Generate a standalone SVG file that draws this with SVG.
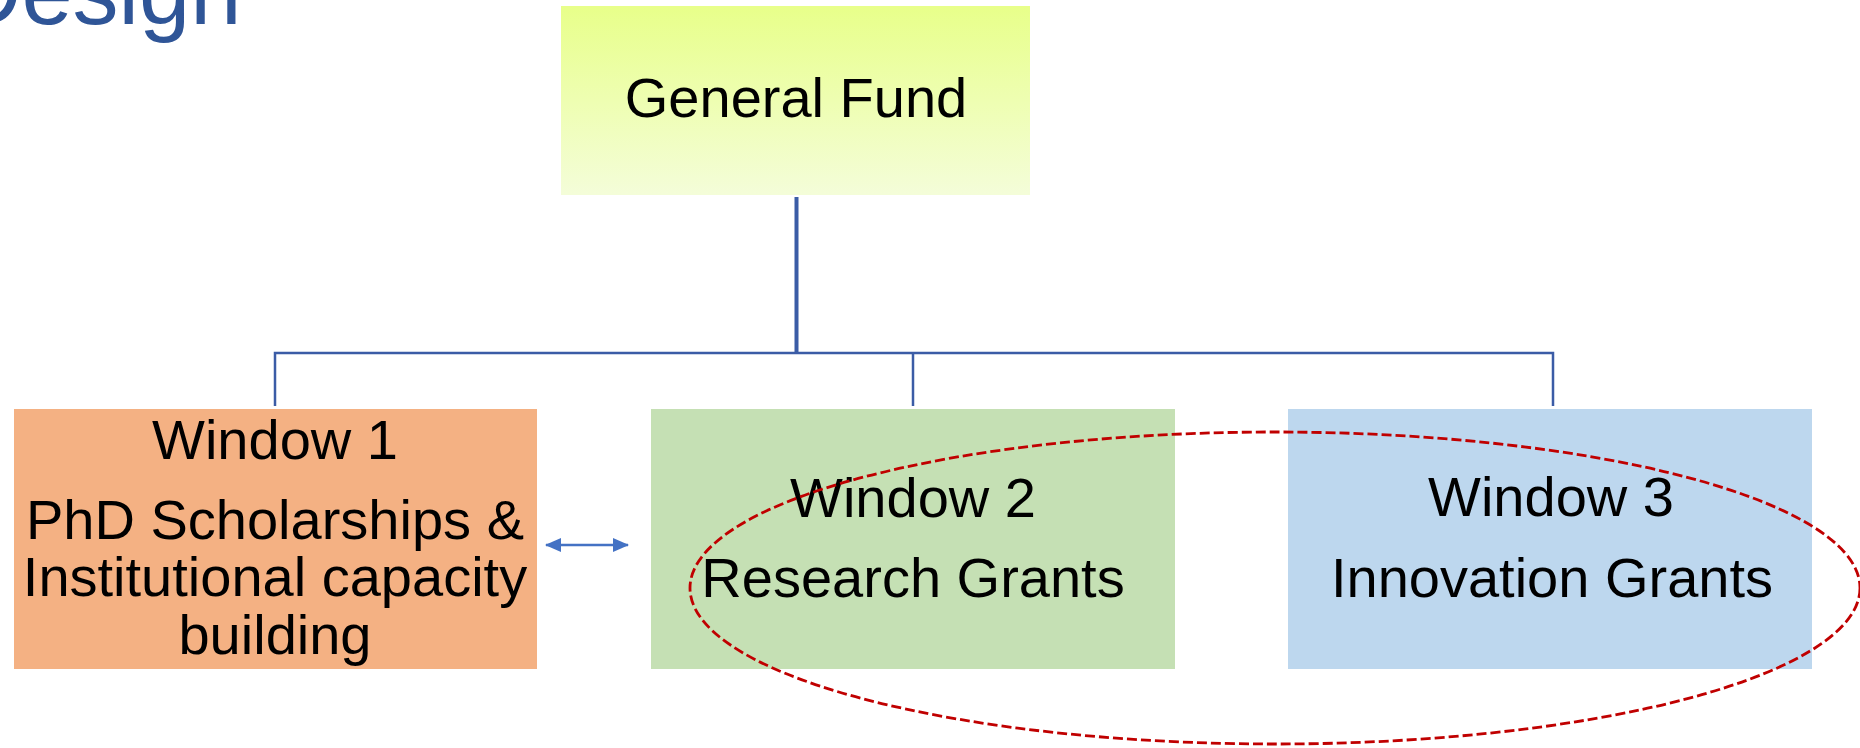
<svg xmlns="http://www.w3.org/2000/svg" width="1860" height="748" viewBox="0 0 1860 748">
<style>
text{font-family:"Liberation Sans",Arial,sans-serif;fill:#000;text-anchor:middle}
.lbl{font-size:56px}
.conn{stroke:#3B5CA6;fill:none}
</style>
<defs>
<linearGradient id="gf" x1="0" y1="0" x2="0" y2="1">
<stop offset="0" stop-color="#E8FF8A"/>
<stop offset="1" stop-color="#F4FDD9"/>
</linearGradient>
<marker id="ah" viewBox="0 0 16 14" refX="15" refY="7" markerWidth="16" markerHeight="14" markerUnits="userSpaceOnUse" orient="auto-start-reverse">
<path d="M0,0 L16,7 L0,14 Z" fill="#4472C4"/>
</marker>
</defs>
<rect width="1860" height="748" fill="#fff"/>
<text x="-45" y="24" style="font-size:92px;fill:#2F5597;text-anchor:start">Design</text>
<g id="connectors">
<line class="conn" x1="796.5" y1="197" x2="796.5" y2="354" stroke-width="4"/>
<polyline class="conn" points="275,406 275,353 1553,353 1553,406" stroke-width="2.5"/>
<line class="conn" x1="913" y1="353" x2="913" y2="406" stroke-width="2.5"/>
<line x1="546" y1="545" x2="628" y2="545" stroke="#4472C4" stroke-width="2.5" marker-start="url(#ah)" marker-end="url(#ah)"/>
</g>
<g id="general-fund">
<rect x="561" y="6" width="469" height="189" fill="url(#gf)"/>
<text class="lbl" x="796" y="117">General Fund</text>
</g>
<g id="window-1">
<rect x="14" y="409" width="523" height="260" fill="#F4B183"/>
<text class="lbl" x="275" y="459">Window 1</text>
<text class="lbl" x="275" y="539">PhD Scholarships &amp;</text>
<text class="lbl" x="275" y="596">Institutional capacity</text>
<text class="lbl" x="275" y="654">building</text>
</g>
<g id="window-2">
<rect x="651" y="409" width="524" height="260" fill="#C5E0B4"/>
<text class="lbl" x="913" y="517">Window 2</text>
<text class="lbl" x="913" y="597">Research Grants</text>
</g>
<g id="window-3">
<rect x="1288" y="409" width="524" height="260" fill="#BDD7EE"/>
<text class="lbl" x="1551" y="516">Window 3</text>
<text class="lbl" x="1552" y="597">Innovation Grants</text>
</g>
<g id="highlight">
<ellipse cx="1275" cy="588" rx="585" ry="156" fill="none" stroke="#C00000" stroke-width="2.8" stroke-dasharray="10,4"/>
</g>
</svg>
